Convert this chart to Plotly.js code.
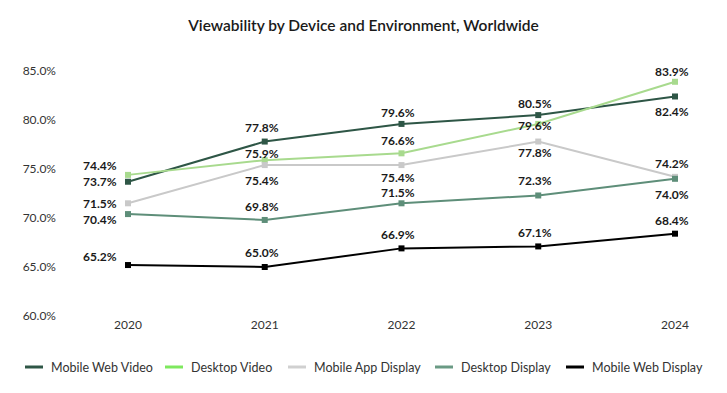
<!DOCTYPE html>
<html>
<head>
<meta charset="utf-8">
<script src="https://cdn.plot.ly/plotly-3.0.1.min.js"></script>
<style>html,body{margin:0;padding:0;background:#fff;}#chart{width:727px;height:393px;}</style>
</head>
<body>
<div id="chart"></div>
<script>
// Data
const years = [2020, 2021, 2022, 2023, 2024];
const seriesNames = ["Mobile Web Video", "Desktop Video", "Mobile App Display", "Desktop Display", "Mobile Web Display"];
const mobileWebVideo = [73.7, 77.8, 79.6, 80.5, 82.4];
const desktopVideo = [74.4, 75.9, 76.6, 79.6, 83.9];
const mobileAppDisplay = [71.5, 75.4, 75.4, 77.8, 74.2];
const desktopDisplay = [70.4, 69.8, 71.5, 72.3, 74.0];
const mobileWebDisplay = [65.2, 65.0, 66.9, 67.1, 68.4];
const yTickVals = [60, 65, 70, 75, 80, 85];

// Styles
const lineColors = ["#2e5646", "#a8da8e", "#c9c9c9", "#5e8e79", "#000000"];
const legendColors = ["#2e5646", "#7ee85e", "#d0d0d0", "#6a9a84", "#000000"];
// Label vertical offsets (px, positive = down) per series per point
const labelDy = [
  [0, -14, -11, -12, 15],
  [-9, -7, -13, 2, -10],
  [0, 15, 12, 11, -13],
  [5, -13, -11, -15, 16],
  [-9, -15, -14, -14, -13]
];
// Legend layout (pixel positions of each swatch start)
const legendSwatchX = [25, 165, 288, 435, 566];
const legendY = 367;
const swatchLen = 18;

const W = 727, H = 393;
const M = {l: 57, r: 20, t: 71, b: 77};
const plotW = W - M.l - M.r, plotH = H - M.t - M.b;
const pxToPaperX = px => (px - M.l) / plotW;
const pxToPaperY = py => (H - M.b - py) / plotH;

const allValues = [mobileWebVideo, desktopVideo, mobileAppDisplay, desktopDisplay, mobileWebDisplay];
const font = "Lato, 'Open Sans', sans-serif";

const traces = allValues.map((vals, i) => ({
  x: years, y: vals, type: "scatter", mode: "lines+markers",
  name: seriesNames[i], showlegend: false,
  line: {color: lineColors[i], width: 2},
  marker: {symbol: "square", size: 6, color: lineColors[i]},
  hoverinfo: "x+y+name"
}));

const annotations = [];
allValues.forEach((vals, i) => {
  vals.forEach((v, j) => {
    const first = j === 0;
    annotations.push({
      x: years[j], y: v, xref: "x", yref: "y",
      text: v.toFixed(1) + "%", showarrow: false,
      xanchor: first ? "right" : "center", yanchor: "middle",
      xshift: first ? -9 : -3, yshift: -labelDy[i][j],
      font: {family: font, size: 12, color: "#1a1a1a", weight: "bold"}
    });
  });
});

annotations.push({
  text: "2020 - 2024", xref: "paper", yref: "container", x: 0.5, y: 1 - 47/H,
  xanchor: "center", yanchor: "middle", showarrow: false,
  font: {family: font, size: 12.5, color: "#222"}
});

// Custom legend: swatch lines + labels
const shapes = [];
seriesNames.forEach((name, i) => {
  shapes.push({
    type: "line", xref: "paper", yref: "paper",
    x0: pxToPaperX(legendSwatchX[i]), x1: pxToPaperX(legendSwatchX[i] + swatchLen),
    y0: pxToPaperY(legendY), y1: pxToPaperY(legendY),
    line: {color: legendColors[i], width: 3}
  });
  annotations.push({
    text: name, xref: "paper", yref: "paper",
    x: pxToPaperX(legendSwatchX[i] + swatchLen + 6), y: pxToPaperY(legendY),
    xanchor: "left", yanchor: "middle", showarrow: false,
    font: {family: font, size: 12.5, color: "#333"}
  });
});

const layout = {
  width: W, height: H,
  paper_bgcolor: "#fff", plot_bgcolor: "#fff",
  margin: M,
  title: {
    text: "Viewability by Device and Environment, Worldwide",
    x: 0.5, xanchor: "center", y: 1 - 26/H, yanchor: "middle",
    font: {family: font, size: 15.5, color: "#1a1a1a", weight: 600}
  },
  xaxis: {
    range: [2019.481, 2024.234], tickvals: years, ticktext: years.map(String),
    showgrid: false, zeroline: false, showline: false, ticks: "",
    tickfont: {family: font, size: 12, color: "#333"}
  },
  yaxis: {
    range: [60, 85], tickvals: yTickVals, ticktext: yTickVals.map(v => v.toFixed(1) + "%"),
    showgrid: false, zeroline: false, showline: false, ticks: "",
    tickfont: {family: font, size: 12, color: "#333"}
  },
  showlegend: false,
  shapes: shapes,
  annotations: annotations,
  hovermode: "closest"
};

Plotly.newPlot("chart", traces, layout, {displayModeBar: false});
</script>
</body>
</html>
